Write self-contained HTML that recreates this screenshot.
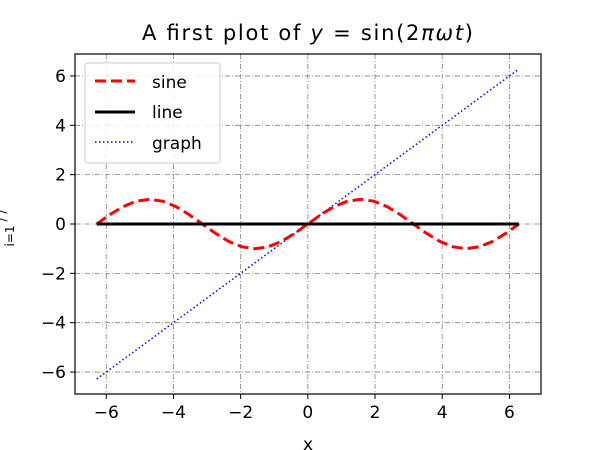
<!DOCTYPE html>
<html><head><meta charset="utf-8"><style>body{margin:0;background:#fff}svg{display:block;font-family:"DejaVu Sans","Liberation Sans",sans-serif}</style></head>
<body>
<svg id="c" width="600" height="450"></svg>
<script>
const tValues=[-6.283,-5.890,-5.498,-5.105,-4.712,-4.320,-3.927,-3.534,-3.142,-2.749,-2.356,-1.963,-1.571,-1.178,-0.785,-0.393,0,0.393,0.785,1.178,1.571,1.963,2.356,2.749,3.142,3.534,3.927,4.320,4.712,5.105,5.498,5.890,6.283];
const sineValues=[0,0.383,0.707,0.924,1,0.924,0.707,0.383,0,-0.383,-0.707,-0.924,-1,-0.924,-0.707,-0.383,0,0.383,0.707,0.924,1,0.924,0.707,0.383,0,-0.383,-0.707,-0.924,-1,-0.924,-0.707,-0.383,0];
const lineValues=[0,0];
const lineT=[-6.283,6.283];
const graphValues=[-6.283,6.283];
const xTicks=[-6,-4,-2,0,2,4,6];
const yTicks=[-6,-4,-2,0,2,4,6];
const L=75,R=541,T=54,B=394;
const xMin=-6.93,xMax=6.94,yMin=-6.89,yMax=6.89;
const X=v=>L+(v-xMin)/(xMax-xMin)*(R-L);
const Y=v=>B-(v-yMin)/(yMax-yMin)*(B-T);
const svg=document.getElementById('c');
const NS='http://www.w3.org/2000/svg';
function mk(tag,attrs,parent){const e=document.createElementNS(NS,tag);for(const k in attrs)e.setAttribute(k,attrs[k]);(parent||svg).appendChild(e);return e;}
const fmt=v=>v<0?'\u2212'+Math.abs(v):''+v;
xTicks.forEach(v=>{
  const g=mk('line',{x1:X(v),x2:X(v),y1:T,y2:B,stroke:'#808080','stroke-width':0.8,'stroke-dasharray':'5,2,1,2'});
  
  
  const tk=mk('line',{x1:X(v),x2:X(v),y1:B,y2:B+5,stroke:'#000','stroke-width':1});
  
  
  const t=mk('text',{x:X(v),y:B+24,'text-anchor':'middle','font-size':17});
  t.textContent=fmt(v);
  
  
});
yTicks.forEach(v=>{
  const g=mk('line',{x1:L,x2:R,y1:Y(v),y2:Y(v),stroke:'#808080','stroke-width':0.8,'stroke-dasharray':'5,2,1,2'});
  
  
  const tk=mk('line',{x1:L-5,x2:L,y1:Y(v),y2:Y(v),stroke:'#000','stroke-width':1});
  
  
  const t=mk('text',{x:L-9,y:Y(v)+6,'text-anchor':'end','font-size':17});
  t.textContent=fmt(v);
  
  
});
const pts=(xs,ys)=>xs.map((x,i)=>X(x).toFixed(1)+','+Y(ys[i]).toFixed(1)).join(' ');
const gr=mk('polyline',{points:pts(lineT,graphValues),fill:'none',stroke:'#0000ff','stroke-width':1.5,'stroke-dasharray':'1.5,2.5'});


const sn=mk('polyline',{points:pts(tValues,sineValues),fill:'none',stroke:'#ff0000','stroke-width':3,'stroke-dasharray':'11,5'});


const ln=mk('polyline',{points:pts(lineT,lineValues),fill:'none',stroke:'#000','stroke-width':3});


const fr=mk('rect',{x:L,y:T,width:R-L,height:B-T,fill:'none',stroke:'#000','stroke-width':1.2});


</script>
<svg style="position:absolute;left:0;top:0" width="600" height="450">
<text x="142" y="40" textLength="331" lengthAdjust="spacing" font-size="21">A first plot of <tspan font-style="italic">y</tspan> = sin(2<tspan font-style="italic">πωt</tspan>)</text>
<text x="308" y="450" text-anchor="middle" font-size="17">x</text>
<text transform="translate(14,228) rotate(-90)" text-anchor="middle" font-size="12"><tspan>i=1</tspan><tspan dx="4" dy="-8">/ /</tspan></text>
<g>
<rect x="85" y="63" width="135" height="100" rx="3" fill="#fff" fill-opacity="0.85" stroke="#ccc"/>
<line x1="95" x2="135" y1="81" y2="81" stroke="#f00" stroke-width="3" stroke-dasharray="11,5"/>
<text x="152" y="88" font-size="17">sine</text>
<line x1="95" x2="135" y1="112" y2="112" stroke="#000" stroke-width="3"/>
<text x="152" y="118" font-size="17">line</text>
<line x1="95" x2="135" y1="142" y2="142" stroke="#00f" stroke-width="1.5" stroke-dasharray="1.5,2.5"/>
<text x="152" y="149" font-size="17">graph</text>
</g>
</svg>
</body></html>
